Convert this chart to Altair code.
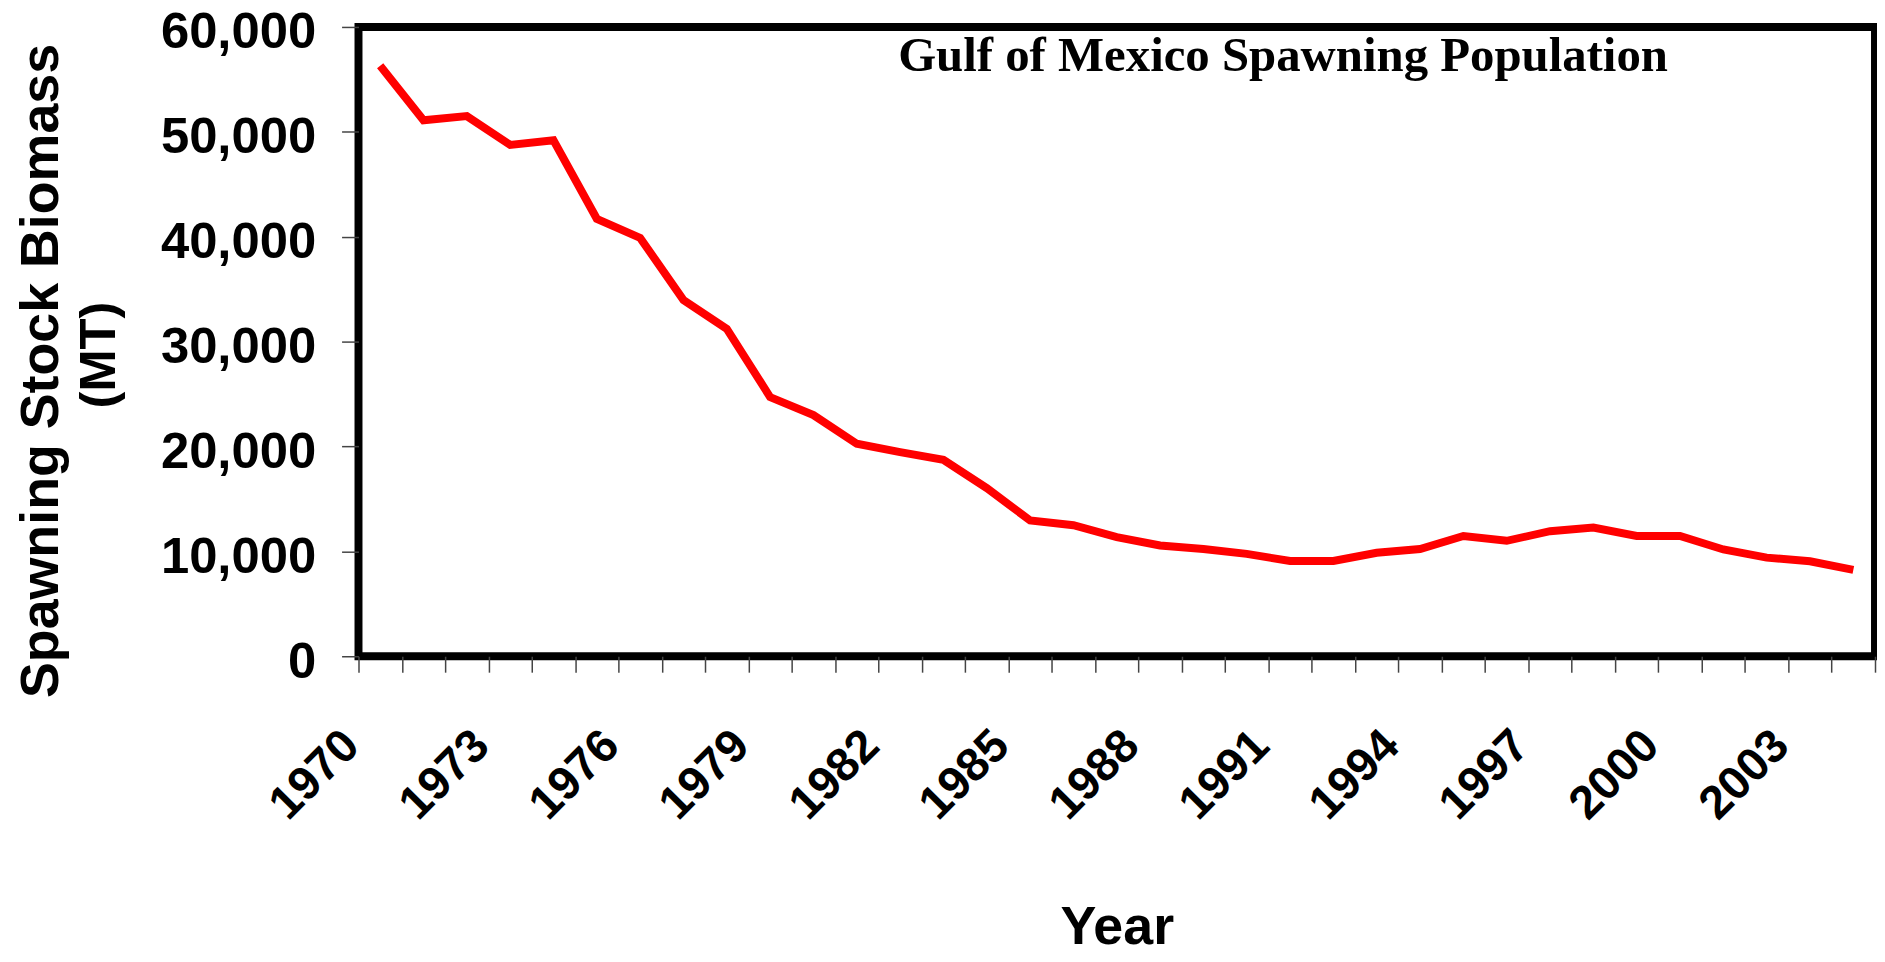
import altair as alt
import pandas as pd

years = ["1970", "1971", "1972", "1973", "1974", "1975", "1976", "1977", "1978", "1979",
         "1980", "1981", "1982", "1983", "1984", "1985", "1986", "1987", "1988", "1989",
         "1990", "1991", "1992", "1993", "1994", "1995", "1996", "1997", "1998", "1999",
         "2000", "2001", "2002", "2003", "2004"]
ssb = [56300, 51100, 51500, 48750, 49200, 41710, 39890, 33960, 31210, 24710,
       22990, 20260, 19460, 18730, 16030, 12950, 12490, 11350, 10560, 10220,
       9760, 9080, 9080, 9870, 10220, 11470, 11010, 11920, 12270, 11470,
       11470, 10180, 9400, 9060, 8230]
y_ticks = [0, 10000, 20000, 30000, 40000, 50000, 60000]
shown_years = ["1970", "1973", "1976", "1979", "1982", "1985", "1988", "1991",
               "1994", "1997", "2000", "2003"]

df = pd.DataFrame({"Year": years, "SSB": ssb})

label_expr = "indexof(" + str(shown_years).replace("'", '"') + ", datum.value) >= 0 ? datum.value : ''"

y_scale = alt.Scale(domain=[0, 60000], nice=False, zero=True)

line = alt.Chart(df).mark_line(color="#FF0000", strokeWidth=8).encode(
    x=alt.X(
        "Year:O",
        sort=years,
        bandPosition=0.5,
        scale=alt.Scale(type="band", paddingInner=0, paddingOuter=0),
        axis=alt.Axis(
            title="Year",
            titleFont="Liberation Sans", titleFontSize=54, titleFontWeight="bold",
            titleColor="black", titleBaseline="alphabetic", titleY=288,
            labelExpr=label_expr, labelAngle=-45, labelAlign="right",
            labelBaseline="middle", labelFont="Liberation Sans", labelFontSize=47,
            labelFontWeight="bold", labelColor="black", labelPadding=66, labelOffset=-29,
            labelOverlap=False, labelBound=False, labelFlush=False,
            tickBand="extent", tickSize=16, tickColor="#444", tickWidth=1.5,
            domain=False, grid=False,
        ),
    ),
    y=alt.Y(
        "SSB:Q",
        scale=y_scale,
        axis=alt.Axis(
            orient="left",
            title="Spawning Stock Biomass",
            titleFont="Liberation Sans", titleFontSize=54, titleFontWeight="bold",
            titleColor="black", titleAngle=270, titleAlign="center",
            titleBaseline="alphabetic", titleX=-302, titleY=345,
            values=y_ticks, format=",d",
            labelFont="Liberation Sans", labelFontSize=51, labelFontWeight="bold",
            labelColor="black", labelPadding=26, labelBaseline="alphabetic",
            labelOffset=21, labelFlush=False, labelBound=False,
            tickSize=17, tickColor="#444", tickWidth=1.5,
            domain=False, grid=False,
        ),
    ),
)

unit_axis = alt.Chart(df).mark_point(opacity=0).encode(
    y=alt.Y(
        "SSB:Q",
        scale=y_scale,
        axis=alt.Axis(
            orient="left",
            title="(MT)",
            titleFont="Liberation Sans", titleFontSize=51, titleFontWeight="bold",
            titleColor="black", titleAngle=270, titleAlign="center",
            titleBaseline="alphabetic", titleX=-245, titleY=329,
            labels=False, ticks=False, domain=False, grid=False,
        ),
    ),
)

chart = alt.layer(line, unit_axis).resolve_axis(y="independent").properties(
    width=1523,
    height=632,
    title=alt.TitleParams(
        "Gulf of Mexico Spawning Population",
        font="Liberation Serif", fontSize=49, fontWeight="bold", color="black",
        anchor="middle", frame="group", dx=167, offset=-113, baseline="alphabetic",
    ),
    autosize=alt.AutoSizeParams(type="none"),
    padding={"left": 352, "top": 17, "right": 2, "bottom": 297},
).configure_view(stroke="black", strokeWidth=8)

chart.save("out.html", embed_options={"renderer": "svg", "actions": False})
